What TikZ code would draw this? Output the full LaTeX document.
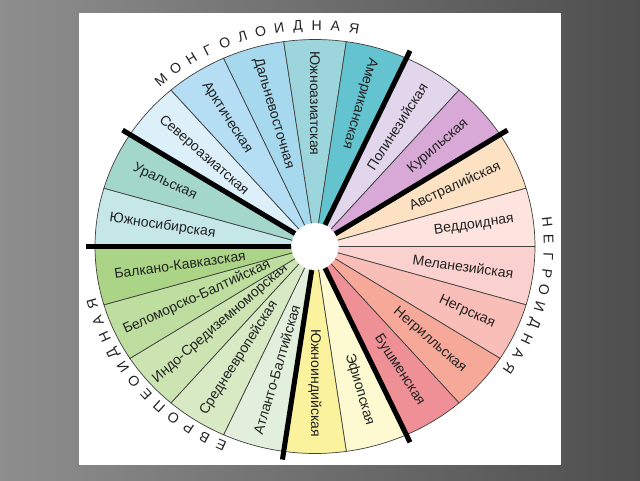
\documentclass[tikz,border=0pt]{standalone}
\usepackage{fontspec}
\setmainfont{Liberation Sans}

\definecolor{bgLight}{HTML}{8E8E8E}
\definecolor{bgDark}{HTML}{4E4E4E}
\definecolor{txtgray}{HTML}{222222}
\definecolor{sec0}{HTML}{C6E7E8}
\definecolor{sec1}{HTML}{A3D7CB}
\definecolor{sec2}{HTML}{DDEFF9}
\definecolor{sec3}{HTML}{B5DDF3}
\definecolor{sec4}{HTML}{A6D8EE}
\definecolor{sec5}{HTML}{9CD6DC}
\definecolor{sec6}{HTML}{63C4CF}
\definecolor{sec7}{HTML}{E2D6EC}
\definecolor{sec8}{HTML}{D8A8D6}
\definecolor{sec9}{HTML}{FDE1C3}
\definecolor{sec10}{HTML}{FDE4DF}
\definecolor{sec11}{HTML}{FBD1CF}
\definecolor{sec12}{HTML}{F9BEB7}
\definecolor{sec13}{HTML}{F7A999}
\definecolor{sec14}{HTML}{EF9097}
\definecolor{sec15}{HTML}{FDFAD2}
\definecolor{sec16}{HTML}{FAF29C}
\definecolor{sec17}{HTML}{E1EFDC}
\definecolor{sec18}{HTML}{D7EAC4}
\definecolor{sec19}{HTML}{CCE4B2}
\definecolor{sec20}{HTML}{BDDE9E}
\definecolor{sec21}{HTML}{ABD486}

\tikzset{
  seclabel/.style={inner sep=0pt,text=txtgray,font=\fontsize{10}{12}\selectfont},
  ringletter/.style={inner sep=0pt,text=txtgray,font=\fontsize{10}{12}\selectfont},
  divider/.style={line width=3.6pt,black}
}

\begin{document}
\begin{tikzpicture}
	\shade[left color=bgLight,right color=bgDark] (0,0) rectangle (16,12);
	\fill[white] (1.975,0.375) rectangle (14.025,11.675);
	\useasboundingbox (0,0) rectangle (16,12);
	\begin{scope}[shift={(7.875,5.8375)},x=5.5cm,y=5.175cm]
		% sectors and their labels
		\foreach \k/\r/\txt in {0/0.70/Южносибирская,1/0.75/Уральская,2/0.67/Североазиатская,
			3/0.74/Арктическая,4/0.67/Дальневосточная,5/0.69/Южноазиатская,6/0.72/Американская,
			7/0.69/Полинезийская,8/0.74/Курильская,9/0.70/Австралийская,10/0.73/Веддоидная,
			11/0.68/Меланезийская,12/0.76/Негрская,13/0.69/Негрилльская,14/0.71/Бушменская,
			15/0.72/Эфиопская,16/0.66/Южноиндийская,17/0.62/Атланто-Балтийская,
			18/0.64/Среднеевропейская,19/0.57/Индо-Средиземноморская,
			20/0.59/Беломорско-Балтийская,21/0.62/Балкано-Кавказская}{
			\pgfmathsetmacro{\aStart}{180-\k*360/22}
			\pgfmathsetmacro{\aEnd}{\aStart-360/22}
			\pgfmathsetmacro{\aMid}{\aStart-180/22}
			\pgfmathsetmacro{\lrot}{\aMid+180*(1-(\k>6)*(\k<17))}
			\filldraw[fill=sec\k,draw=black!75,line width=0.5pt]
				(0,0) -- plot[domain=\aStart:\aEnd,samples=12] (\x:1) -- cycle;
			\node[seclabel,rotate=\lrot] (lbl\k) at (\aMid:\r) {\txt};
		}
		\node[circle,fill=white,inner sep=0pt,minimum size=33.5pt] (hub) at (0,0) {};
		% group borders
		\foreach \k in {0,2,7,9,15,17}{
			\pgfmathsetmacro{\aStart}{180-\k*360/22}
			\draw[divider] (hub.\aStart) -- (\aStart:1.04);
		}
		% ring titles
		\foreach \ch [count=\i from 0] in {М,О,Н,Г,О,Л,О,И,Д,Н,А,Я}{
			\pgfmathsetmacro{\t}{131-4.6*\i}
			\node[ringletter,rotate=\t-90] (mong\i) at (\t:1.067) {\ch};
		}
		\foreach \ch [count=\i from 0] in {Н,Е,Г,Р,О,И,Д,Н,А,Я}{
			\pgfmathsetmacro{\t}{6.4-4.47*\i}
			\node[ringletter,rotate=\t-90] (negr\i) at (\t:1.062) {\ch};
		}
		\foreach \ch [count=\i from 0] in {Е,В,Р,О,П,Е,О,И,Д,Н,А,Я}{
			\pgfmathsetmacro{\t}{-114-4.6*\i}
			\node[ringletter,rotate=\t-90] (evro\i) at (\t:1.05) {\ch};
		}
	\end{scope}
\end{tikzpicture}
\end{document}
